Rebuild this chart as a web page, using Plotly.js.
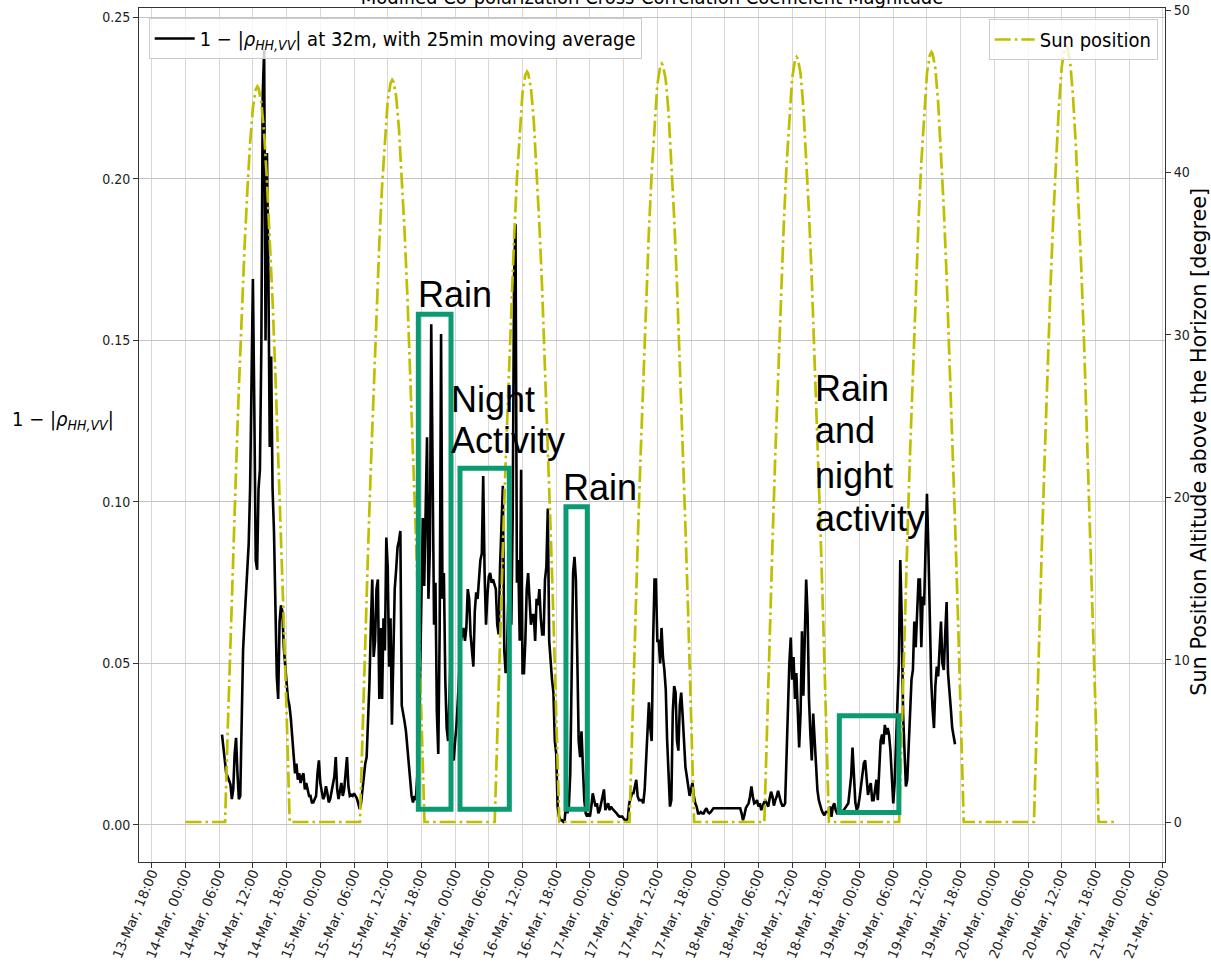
<!DOCTYPE html>
<html>
<head>
<meta charset="utf-8">
<script src="https://cdn.plot.ly/plotly-3.0.1.min.js"></script>
<style>html,body{margin:0;padding:0;background:#fff}#chart{width:1211px;height:970px}</style>
</head>
<body>
<div id="chart"></div>
<script>
// ---------------- DATA ----------------
// 1-|rho_HH,VV| at 32 m (25 min moving average), sampled every 15 minutes from 14-Mar 06:30
const rhoStart = '2019-03-14 06:30:00';
const rhoStepMinutes = 15;
const rhoValues = [
  // 14-Mar 06:30 - 15-Mar 00:00
  .028,.024,.019,.016,.015,.014,.0126,.008,.011,.022,.027,.016,.008,.009,.035,.054,
  .063,.071,.077,.087,.104,.132,.169,.129,.082,.079,.104,.110,.148,.226,.240,.150,
  .208,.172,.117,.145,.104,.091,.069,.046,.039,.063,.068,.066,.055,.048,.044,.039,
  .037,.033,.027,.020,.016,.019,.014,.016,.013,.015,.016,.011,.013,.011,.009,.009,
  .007,.007,.008,.009,.016,.020,.013,
  // 15-Mar 00:15 - 05:15
  .010,.008,.009,.012,.010,.007,.008,.010,.012,.015,.021,.011,.008,.010,.013,.009,
  .011,.016,.021,.012,.009,
  // 15-Mar 05:30 - 17:15
  .0093,.009,.0098,.009,.0083,.0067,.005,.0067,.011,.016,.019,.021,.032,.044,.062,.076,
  .052,.057,.073,.076,.039,.061,.039,.064,.054,.089,.080,.049,.064,.031,.052,.073,
  .079,.086,.088,.091,.037,.035,.032,.029,.024,.020,.016,.009,.007,.009,.0077,.014,
  // 15-Mar 17:30 - 23:15 (rain)
  .022,.045,.070,.095,.074,.098,.120,.070,.085,.155,.095,.062,.075,.035,.022,.060,
  .152,.070,.078,.045,.030,.026,.040,.055,
  // 15-Mar 23:30 - 16-Mar 09:45
  .021,.020,.026,.031,.039,.049,.057,.059,.061,.057,.061,.073,.070,.059,.054,.049,
  .066,.072,.070,.078,.082,.084,.108,.078,.062,.071,.077,.078,.075,.076,.074,.073,
  .062,.059,.080,.092,.105,.054,.047,.054,.073,.090,
  // 16-Mar 10:00 - 20:00
  .062,.095,.170,.186,.075,.082,.057,.110,.047,.047,.057,.073,.078,.068,.062,.065,
  .065,.057,.070,.068,.073,.064,.059,.059,.076,.080,.098,.057,.049,.045,.041,.026,
  .022,.0057,.0026,.0015,.0015,.001,.0015,.0067,.0036,
  // 16-Mar 20:15 - 17-Mar 19:30
  .0057,.016,.052,.078,.083,.076,.052,.026,.021,.029,.018,.0077,.0036,.0026,.0036,.0026,
  .0057,.0098,.0077,.0057,.0067,.0036,.0046,.0067,.0098,.011,.0046,.0057,.0067,.0046,
  .0057,.005,.0046,.004,.0036,.003,.0026,.0026,.0026,.002,.0015,.0015,.002,.0067,.0088,
  .0098,.0098,.012,.014,.0088,.0077,.0077,.0077,.0067,.011,.020,.030,.038,.030,.026,
  .057,.076,.076,.057,.057,.050,.061,.052,.048,.042,.026,.014,.0057,.0077,.035,.043,
  .041,.026,.023,.037,.041,.034,.024,.018,.015,.012,.009,.011,.013,.009,.0067,.0057,
  .0036,.0036,
  // 17-Mar 19:45 - 19-Mar 17:00
  .004,.0036,.0036,.0046,.0052,.004,.0036,.004,.0046,.0052,
  .0052,.0052,.0052,.0052,.0052,.0052,.0052,.0052,.0052,.0052,.0052,.0052,.0052,.0052,
  .0052,.0052,.0052,.0052,.0052,
  .0036,.0015,.003,.0052,.006,.0067,.0088,.0119,.0088,.0067,.007,.0077,.0057,.0067,.0046,.006,
  .007,.0075,.0067,.0057,.0083,.0103,.0088,.006,.0077,.0088,.0106,.0083,.007,.006,.006,.0067,
  .022,.0345,.050,.058,.045,.052,.039,.047,.0345,.024,.0345,.060,.040,.063,.076,.065,
  .039,.028,.020,.0345,.026,.017,.0108,.0077,.006,.0046,.0036,.003,.004,.004,.004,.0057,
  .0025,.0057,.0067,.0046,.0036,.0036,.0046,.0036,.0044,.0048,.0054,.006,.0067,.0108,.015,.024,
  .014,.007,.0046,.0057,.0083,.0119,.017,.019,.020,.014,.0093,.0114,.013,.0077,.0077,.0108,
  .014,.0077,.016,.026,.028,.025,.031,.028,.030,.028,.023,.016,.0067,.013,.024,.0335,
  .050,.082,.065,.0345,.025,.0119,.014,.024,.037,.045,.048,.063,.055,.068,.076,.076,
  .055,.0707,.068,.086,.1025,.086,.063,.045,.036,.030,.043,.049,.046,.054,.063,.050,
  .048,.059,.069,.047,.040,.036,.030,.027,.025
];

// Sun altitude [degree]
const sunFirstTime = '2019-03-14 00:00:00';
const sunLastTime = '2019-03-20 21:45:00';
const sunDays = ['2019-03-14','2019-03-15','2019-03-16','2019-03-17','2019-03-18','2019-03-19','2019-03-20'];
const sunHourOfDay = [7.05,7.5,8,8.5,9,9.5,10,10.5,11,11.5,12,12.5,12.8,13,13.5,14,14.5,15,15.5,16,16.5,17,17.5,18,18.5,18.55];
const sunAlt14 = [0,5.5,11.2,16.6,21.7,26.7,31.3,35.3,38.8,41.8,44.0,45.1,45.3,45.2,44.3,42.4,39.5,36.1,32.1,27.6,22.8,17.7,12.3,6.7,0.6,0];
const sunAlt15 = [0,5.6,11.3,16.7,21.9,26.9,31.5,35.6,39.2,42.1,44.4,45.5,45.7,45.6,44.7,42.7,39.9,36.4,32.4,27.9,23.0,17.8,12.4,6.8,0.6,0];
const sunAlt16 = [0,5.6,11.4,16.9,22.2,27.2,31.9,36.0,39.6,42.6,44.9,46.0,46.2,46.1,45.2,43.2,40.3,36.8,32.8,28.2,23.2,18.0,12.6,6.8,0.6,0];
const sunAlt17 = [0,5.7,11.5,17.1,22.4,27.5,32.2,36.4,40.0,43.1,45.4,46.5,46.7,46.6,45.7,43.7,40.7,37.2,33.1,28.5,23.5,18.2,12.7,6.9,0.7,0];
const sunAlt18 = [0,5.7,11.6,17.2,22.6,27.7,32.5,36.7,40.4,43.4,45.8,46.9,47.1,47.0,46.1,44.0,41.1,37.5,33.4,28.7,23.7,18.4,12.8,7.0,0.7,0];
const sunAlt19 = [0,5.8,11.7,17.3,22.8,27.9,32.7,37.0,40.6,43.7,46.1,47.2,47.4,47.3,46.4,44.3,41.3,37.8,33.6,28.9,23.8,18.5,12.9,7.0,0.7,0];
const sunAlt20 = [0,5.8,11.8,17.5,22.9,28.2,33.0,37.3,41.0,44.1,46.5,47.6,47.8,47.7,46.8,44.7,41.7,38.1,33.9,29.2,24.0,18.6,13.0,7.1,0.7,0];
const sunAltByDay = [sunAlt14,sunAlt15,sunAlt16,sunAlt17,sunAlt18,sunAlt19,sunAlt20];

// Text labels
const rhoLegendName = '1 − |<i>ρ</i><sub><i>HH,VV</i></sub>| at 32m, with 25min moving average';
const sunLegendName = 'Sun position';
const chartTitle = 'Modified Co-polarization Cross-Correlation Coefficient Magnitude';
const leftAxisTitle = '1 − |<i>ρ</i><sub><i>HH,VV</i></sub>|';
const rightAxisTitle = 'Sun Position Altitude above the Horizon [degree]';

// ---------------- HELPERS ----------------
function addHours(base, h) {
  const t = Date.parse(base.replace(' ', 'T') + 'Z') + Math.round(h * 3600000);
  return new Date(t).toISOString().replace('T', ' ').slice(0, 19);
}

const rhoX = rhoValues.map((v, i) => addHours(rhoStart, i * rhoStepMinutes / 60));

const sunX = [sunFirstTime], sunY = [0];
sunDays.forEach((d, k) => {
  sunHourOfDay.forEach((h, j) => { sunX.push(addHours(d + ' 00:00:00', h)); sunY.push(sunAltByDay[k][j]); });
});
sunX.push(sunLastTime); sunY.push(0);

// ---------------- PLOT ----------------
const narrow = 'DejaVu Sans Condensed, DejaVu Sans, sans-serif';
const green = '#0c9a72';

const traces = [
  {x: rhoX, y: rhoValues, type: 'scatter', mode: 'lines', name: rhoLegendName,
   line: {color: '#000000', width: 2.6}, yaxis: 'y', legend: 'legend'},
  {x: sunX, y: sunY, type: 'scatter', mode: 'lines', name: sunLegendName,
   line: {color: '#bfbf00', width: 2.7, dash: '16px,4px,2.6px,4px'}, yaxis: 'y2', legend: 'legend2'}
];

const boxes = [
  {x0: '2019-03-15 17:27', x1: '2019-03-15 23:16', y0: 0.00486, y1: 0.1581},
  {x0: '2019-03-16 00:52', x1: '2019-03-16 09:39', y0: 0.00486, y1: 0.1104},
  {x0: '2019-03-16 19:44', x1: '2019-03-16 23:32', y0: 0.00486, y1: 0.0985},
  {x0: '2019-03-18 20:24', x1: '2019-03-19 07:00', y0: 0.0039, y1: 0.0338}
];

const labelFont = {family: 'Liberation Sans, Arial, sans-serif', size: 36, color: '#000'};
const labels = [
  {text: 'Rain', x: '2019-03-15 17:02', y: 0.1572},
  {text: 'Night', x: '2019-03-15 22:55', y: 0.1246},
  {text: 'Activity', x: '2019-03-15 22:55', y: 0.1120},
  {text: 'Rain', x: '2019-03-16 18:56', y: 0.0975},
  {text: 'Rain', x: '2019-03-18 15:40', y: 0.1282},
  {text: 'and', x: '2019-03-18 15:40', y: 0.1150},
  {text: 'night', x: '2019-03-18 15:40', y: 0.1013},
  {text: 'activity', x: '2019-03-18 15:40', y: 0.0879}
];

const annotations = labels.map(l => ({
  text: l.text, x: l.x, y: l.y, xref: 'x', yref: 'y', xanchor: 'left', yanchor: 'bottom',
  showarrow: false, font: labelFont, borderpad: 1
}));
annotations.push({
  text: leftAxisTitle, xref: 'paper', yref: 'paper', x: -0.1257, y: 0.517,
  xanchor: 'left', yanchor: 'middle', showarrow: false,
  font: {family: narrow, size: 20, color: '#000'}
});
annotations.push({
  text: rightAxisTitle, xref: 'paper', yref: 'paper', x: 1.0331, y: 0.492,
  xanchor: 'center', yanchor: 'middle', showarrow: false, textangle: -90,
  font: {family: 'DejaVu Sans, sans-serif', size: 20.8, color: '#000'}
});

const tickFontY = {family: narrow, size: 14, color: '#222'};
const legendBase = {
  bgcolor: 'rgba(255,255,255,0.8)', bordercolor: '#cccccc', borderwidth: 1,
  font: {family: narrow, size: 20, color: '#000'}, itemwidth: 40, orientation: 'v'
};

const layout = {
  width: 1211, height: 970,
  margin: {l: 139, r: 46, t: 8, b: 108, pad: 0},
  paper_bgcolor: '#ffffff', plot_bgcolor: '#ffffff',
  showlegend: true,
  title: {text: chartTitle, font: {family: narrow, size: 20, color: '#000'},
          xref: 'paper', x: 0.5, xanchor: 'center', yref: 'container', y: 0.9964, yanchor: 'bottom'},
  xaxis: {
    type: 'date', range: ['2019-03-13 15:43:19', '2019-03-21 06:22:48'],
    tick0: '2019-03-13 18:00:00', dtick: 21600000, tickformat: '%d-%b, %H:%M',
    tickangle: -67, tickfont: {family: 'DejaVu Sans, sans-serif', size: 13.5, color: '#222'},
    ticklabelstandoff: -8,
    ticks: 'outside', ticklen: 5, tickcolor: '#333', tickwidth: 1,
    showgrid: true, gridcolor: '#d8d8d8', gridwidth: 1,
    showline: true, linecolor: '#333', linewidth: 1, mirror: true, zeroline: false
  },
  yaxis: {
    range: [-0.01146, 0.25291], tick0: 0, dtick: 0.05, tickformat: '.2f',
    tickfont: tickFontY, ticks: 'outside', ticklen: 5, tickcolor: '#333',
    showgrid: true, gridcolor: '#c4c4c4', gridwidth: 1,
    showline: true, linecolor: '#333', linewidth: 1, mirror: true, zeroline: false
  },
  yaxis2: {
    overlaying: 'y', side: 'right', range: [-2.463, 50.123], tick0: 0, dtick: 10,
    tickfont: tickFontY, ticks: 'outside', ticklen: 5, tickcolor: '#333',
    showgrid: false, showline: true, linecolor: '#333', linewidth: 1, zeroline: false
  },
  legend: Object.assign({}, legendBase, {x: 0.00945, y: 0.9883, xanchor: 'left', yanchor: 'top'}),
  legend2: Object.assign({}, legendBase, {x: 0.9929, y: 0.9871, xanchor: 'right', yanchor: 'top'}),
  shapes: boxes.map(b => Object.assign({type: 'rect', xref: 'x', yref: 'y', layer: 'above',
    line: {color: green, width: 5}, fillcolor: 'rgba(0,0,0,0)'}, b)),
  annotations: annotations
};

Plotly.newPlot('chart', traces, layout, {displayModeBar: false, staticPlot: true});
</script>
</body>
</html>
